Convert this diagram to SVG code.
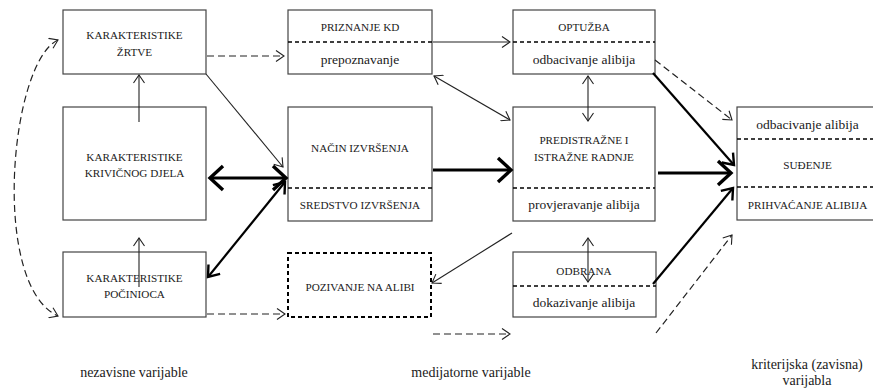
<svg xmlns="http://www.w3.org/2000/svg" width="873" height="389" viewBox="0 0 873 389">
<defs>
<style>
text{font-family:'Liberation Serif','Times New Roman','DejaVu Serif',serif;fill:#1a1a1a;text-anchor:middle}
.box{fill:#fff;stroke:#444;stroke-width:1.2}
.dbox{fill:#fff;stroke:#000;stroke-width:2;stroke-dasharray:4 3}
.div{stroke:#000;stroke-width:1.6;stroke-dasharray:4 3}
.cap{font-size:11.2px}
.low{font-size:13.5px}
.lab{font-size:14px}
.thin{fill:none;stroke:#222;stroke-width:1.1}
.dash{fill:none;stroke:#222;stroke-width:1.2;stroke-dasharray:7 4}
.thick{fill:none;stroke:#000;stroke-width:3.2}
.med{fill:none;stroke:#000;stroke-width:2.2}
</style>
<marker id="a" markerWidth="12" markerHeight="12" refX="10" refY="6" orient="auto-start-reverse" markerUnits="userSpaceOnUse"><path d="M2,0.5 L10,6 L2,11.5" fill="none" stroke="#222" stroke-width="1.1"/></marker>
<marker id="m" markerWidth="18" markerHeight="18" refX="15" refY="9" orient="auto-start-reverse" markerUnits="userSpaceOnUse"><path d="M5,1.5 L15,9 L5,16.5" fill="none" stroke="#000" stroke-width="2.4"/></marker>
<marker id="A" markerWidth="24" markerHeight="28" refX="19" refY="14" orient="auto-start-reverse" markerUnits="userSpaceOnUse"><path d="M6,2 L19,14 L6,26" fill="none" stroke="#000" stroke-width="3.4"/></marker>
</defs>

<g id="karakteristike-zrtve">
<rect class="box" x="63" y="10" width="143" height="64"/>
<text class="cap" x="134.5" y="39">KARAKTERISTIKE</text>
<text class="cap" x="134.5" y="56">ŽRTVE</text>
</g>
<g id="karakteristike-djela">
<rect class="box" x="63" y="107" width="143" height="113"/>
<text class="cap" x="134.5" y="161">KARAKTERISTIKE</text>
<text class="cap" x="134.5" y="177">KRIVIČNOG DJELA</text>
</g>
<g id="karakteristike-pocinioca">
<rect class="box" x="63" y="252" width="143" height="65"/>
<text class="cap" x="134.5" y="282">KARAKTERISTIKE</text>
<text class="cap" x="134.5" y="298">POČINIOCA</text>
</g>

<g id="priznanje">
<rect class="box" x="288" y="10" width="144" height="64"/>
<line class="div" x1="288" y1="42" x2="432" y2="42"/>
<text class="cap" x="360" y="31">PRIZNANJE KD</text>
<text class="low" x="360" y="64">prepoznavanje</text>
</g>
<g id="nacin">
<rect class="box" x="288" y="107" width="144" height="114"/>
<line class="div" x1="288" y1="188" x2="432" y2="188"/>
<text class="cap" x="360" y="152">NAČIN IZVRŠENJA</text>
<text class="cap" x="360" y="209">SREDSTVO IZVRŠENJA</text>
</g>
<g id="pozivanje">
<rect class="dbox" x="288" y="253" width="143" height="64"/>
<text class="cap" x="360" y="291">POZIVANJE NA ALIBI</text>
</g>

<g id="optuzba">
<rect class="box" x="513" y="10" width="142" height="64"/>
<line class="div" x1="513" y1="42" x2="655" y2="42"/>
<text class="cap" x="584" y="31">OPTUŽBA</text>
<text class="low" x="584" y="64">odbacivanje alibija</text>
</g>
<g id="predistrazne">
<rect class="box" x="513" y="107" width="142" height="114"/>
<line class="div" x1="513" y1="188" x2="655" y2="188"/>
<text class="cap" x="584" y="144">PREDISTRAŽNE I</text>
<text class="cap" x="584" y="161">ISTRAŽNE RADNJE</text>
<text class="low" x="584" y="209">provjeravanje alibija</text>
</g>
<g id="odbrana">
<rect class="box" x="513" y="252" width="143" height="65"/>
<line class="div" x1="513" y1="286" x2="656" y2="286"/>
<text class="cap" x="584" y="275">ODBRANA</text>
<text class="low" x="584" y="307">dokazivanje alibija</text>
</g>

<g id="sudjenje">
<rect class="box" x="737" y="107" width="142" height="113"/>
<line class="div" x1="737" y1="139" x2="879" y2="139"/>
<line class="div" x1="737" y1="187" x2="879" y2="187"/>
<text class="low" x="807.5" y="129">odbacivanje alibija</text>
<text class="cap" x="807.5" y="169">SUĐENJE</text>
<text class="cap" x="807.5" y="209">PRIHVAĆANJE ALIBIJA</text>
</g>

<g id="labels">
<text class="lab" x="134" y="377">nezavisne varijable</text>
<text class="lab" x="471" y="377">medijatorne varijable</text>
<text class="lab" x="807" y="369">kriterijska (zavisna)</text>
<text class="lab" x="807" y="385">varijabla</text>
</g>

<g id="connectors">
<path class="dash" d="M58,40 C10,62 -10,285 58,316" marker-start="url(#a)" marker-end="url(#a)"/>
<line class="dash" x1="207" y1="56" x2="284" y2="56" marker-end="url(#a)"/>
<line class="dash" x1="207" y1="314" x2="285" y2="314" marker-end="url(#a)"/>
<line class="thin" x1="139" y1="122" x2="139" y2="75" marker-end="url(#a)"/>
<line class="thin" x1="139" y1="287" x2="139" y2="238" marker-end="url(#a)"/>
<line class="thin" x1="206" y1="74" x2="283" y2="167" marker-end="url(#a)"/>
<line class="thick" x1="210" y1="178" x2="286" y2="178" marker-start="url(#A)" marker-end="url(#A)"/>
<line class="med" x1="208" y1="277" x2="285" y2="182" marker-start="url(#m)" marker-end="url(#m)"/>
<line class="thin" x1="433" y1="42" x2="510" y2="42" marker-end="url(#a)"/>
<line class="thin" x1="434" y1="76" x2="510" y2="120" marker-start="url(#a)" marker-end="url(#a)"/>
<line class="thick" x1="433" y1="170" x2="511" y2="170" marker-end="url(#A)"/>
<line class="thin" x1="512" y1="233" x2="432" y2="283" marker-end="url(#a)"/>
<line class="dash" x1="433" y1="334" x2="510" y2="334" marker-end="url(#a)"/>
<line class="thin" x1="588" y1="76" x2="588" y2="121" marker-start="url(#a)" marker-end="url(#a)"/>
<line class="thin" x1="588" y1="238" x2="588" y2="282" marker-start="url(#a)" marker-end="url(#a)"/>
<line class="dash" x1="655" y1="60" x2="732" y2="120" marker-end="url(#a)"/>
<line class="med" x1="653" y1="73" x2="734" y2="165" marker-end="url(#m)"/>
<line class="thick" x1="658" y1="173" x2="731" y2="173" marker-end="url(#A)"/>
<line class="med" x1="653" y1="284" x2="733" y2="188" marker-end="url(#m)"/>
<line class="dash" x1="656" y1="333" x2="732" y2="235" marker-end="url(#a)"/>
</g>
</svg>
